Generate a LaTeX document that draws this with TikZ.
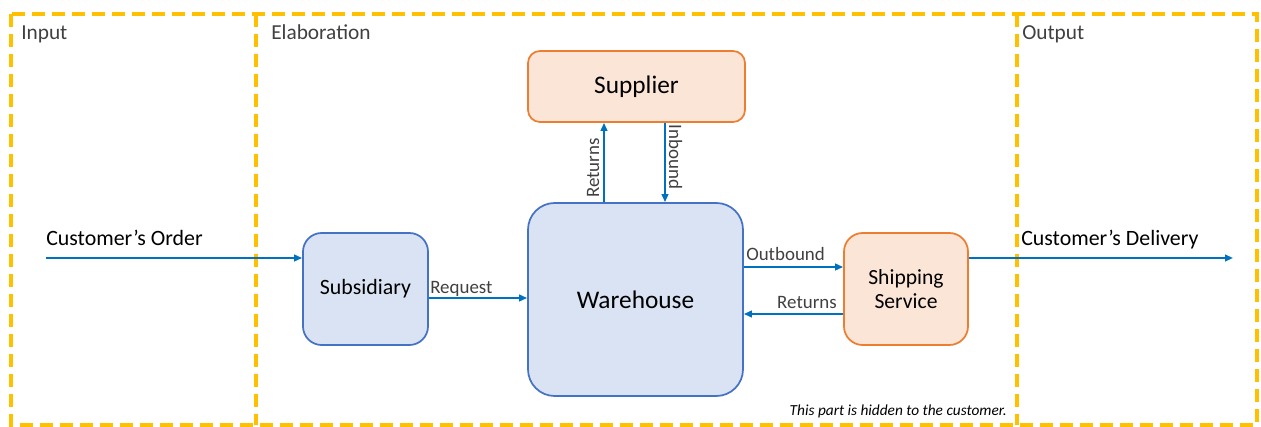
\documentclass[tikz,border=0pt]{standalone}
\usepackage{fontspec}
\setmainfont{Carlito}
\usetikzlibrary{arrows.meta}
\definecolor{frameyellow}{HTML}{FFC000}
\definecolor{flowblue}{HTML}{0070C0}
\definecolor{boxblue}{HTML}{DAE3F3}
\definecolor{edgeblue}{HTML}{4472C4}
\definecolor{boxorange}{HTML}{FBE5D6}
\definecolor{edgeorange}{HTML}{ED7D31}
\definecolor{labelgray}{HTML}{404040}
\tikzset{
  zone/.style={frameyellow, line width=2.3pt, dash pattern=on 9.5pt off 5.5pt},
  zonelabel/.style={anchor=base west, inner sep=0pt, text=labelgray, font=\fontsize{16}{18}\selectfont},
  bluebox/.style={draw=edgeblue, fill=boxblue, line width=1.3pt, inner sep=0pt},
  orangebox/.style={draw=edgeorange, fill=boxorange, line width=1.3pt, inner sep=0pt},
  flow/.style={flowblue, line width=1.4pt, -{Triangle[length=6pt,width=5pt]}},
  flowlabel/.style={text=labelgray, inner sep=0pt, font=\fontsize{14.2}{16}\selectfont},
  biglabel/.style={text=black, inner sep=0pt, font=\fontsize{16.4}{18}\selectfont},
}
\begin{document}
\begin{tikzpicture}[x=0.75pt, y=-0.75pt]
\useasboundingbox (0,0) rectangle (1261,427);

% zones
\draw[zone] (11,14) rectangle (1257,425);
\draw[zone] (256,14) -- (256,425);
\draw[zone] (1017,14) -- (1017,425);
\node[zonelabel] (lin) at (21,40) {Input};
\node[zonelabel] (lel) at (271,40) {Elaboration};
\node[zonelabel] (lout) at (1022,40) {Output};

% boxes
\node[orangebox, rounded corners=9pt, minimum width=162.75pt, minimum height=53.25pt,
      font=\fontsize{19}{22}\selectfont] (sup) at (636.5,86.5) {Supplier};
\node[bluebox, rounded corners=20pt, minimum width=161.25pt, minimum height=144.75pt,
      font=\fontsize{19}{22}\selectfont] (wh) at (635.5,299.5) {Warehouse};
\node[bluebox, rounded corners=14pt, minimum width=93.75pt, minimum height=84pt,
      font=\fontsize{16.4}{18}\selectfont] (sub) at (365.5,289) {Subsidiary};
\node[orangebox, rounded corners=14pt, minimum width=93pt, minimum height=84pt, align=center,
      font=\fontsize{16.2}{18.5}\selectfont] (ship) at (906,289) {Shipping\\Service};

% endpoints
\coordinate (orderstart) at (46,258);
\coordinate (delivend) at (1233,258);

% flows
\draw[flow] (orderstart) -- (orderstart -| sub.west);
\node[biglabel, anchor=base west] (lorder) at (46,246) {Customer’s Order};

\draw[flow] (sub.east |- 0,298) -- (wh.west |- 0,298);
\node[flowlabel, anchor=base west] (lreq) at (430,294) {Request};

\draw[flow] (wh.north -| 604,0) -- (sup.south -| 604,0);
\node[flowlabel, rotate=90, anchor=base] (lret1) at (599,168) {Returns};

\draw[flow] (sup.south -| 665,0) -- (wh.north -| 665,0);
\node[flowlabel, rotate=-90, anchor=base] (linb) at (669,157) {Inbound};

\draw[flow] (wh.east |- 0,267) -- (ship.west |- 0,267);
\node[flowlabel, anchor=base west] (lout2) at (746,261) {Outbound};

\draw[flow] (ship.west |- 0,314) -- (wh.east |- 0,314);
\node[flowlabel, anchor=base east] (lret2) at (837,309) {Returns};

\draw[flow] (ship.east |- delivend) -- (delivend);
\node[biglabel, anchor=base west] (ldel) at (1021,246) {Customer’s Delivery};

\node[anchor=base east, inner sep=0pt, text=black,
      font=\itshape\fontsize{11.5}{13}\selectfont] (hidden) at (1007,416) {This part is hidden to the customer.};
\end{tikzpicture}
\end{document}
